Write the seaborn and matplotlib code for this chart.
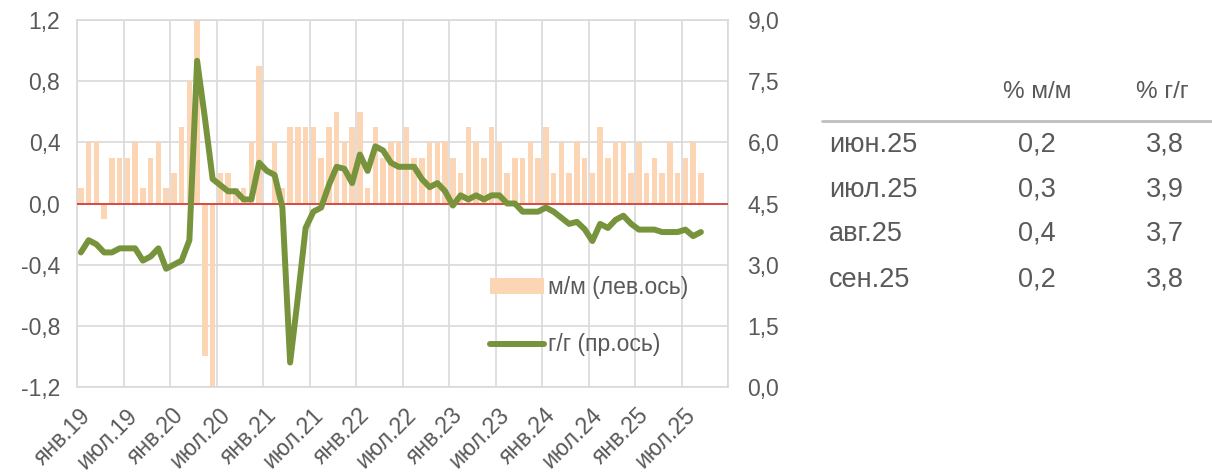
import numpy as np
import pandas as pd
import matplotlib
matplotlib.use("Agg")
import matplotlib.pyplot as plt
import matplotlib.transforms as mtransforms
from matplotlib.patches import Patch
from matplotlib.lines import Line2D
from matplotlib.ticker import FuncFormatter
import seaborn as sns

# ---------------- data ----------------
month_abbr = ["янв", "фев", "мар", "апр", "май", "июн",
              "июл", "авг", "сен", "окт", "ноя", "дек"]
years = [19, 20, 21, 22, 23, 24, 25]
months = [f"{m}.{y}" for y in years for m in month_abbr]  # axis categories

mm = [0.1, 0.4, 0.4, -0.1, 0.3, 0.3, 0.3, 0.4, 0.1, 0.3, 0.4, 0.1,
      0.2, 0.5, 0.8, 1.2, -1.0, -1.2, 0.2, 0.2, 0.1, 0.1, 0.4, 0.9,
      0.0, 0.4, 0.1, 0.5, 0.5, 0.5, 0.5, 0.3, 0.5, 0.6, 0.4, 0.5,
      0.6, 0.1, 0.5, 0.3, 0.4, 0.4, 0.5, 0.3, 0.3, 0.4, 0.4, 0.4,
      0.3, 0.2, 0.5, 0.4, 0.3, 0.5, 0.4, 0.2, 0.3, 0.3, 0.4, 0.3,
      0.5, 0.2, 0.4, 0.2, 0.4, 0.3, 0.2, 0.5, 0.3, 0.4, 0.4, 0.2,
      0.4, 0.2, 0.3, 0.2, 0.4, 0.2, 0.3, 0.4, 0.2]

yy = [3.3, 3.6, 3.5, 3.3, 3.3, 3.4, 3.4, 3.4, 3.1, 3.2, 3.4, 2.9,
      3.0, 3.1, 3.6, 8.0, 6.6, 5.1, 4.95, 4.8, 4.8, 4.6, 4.6, 5.5,
      5.3, 5.2, 4.4, 0.6, 2.2, 3.9, 4.3, 4.4, 4.95, 5.4, 5.35, 5.0,
      5.7, 5.3, 5.9, 5.8, 5.5, 5.4, 5.4, 5.4, 5.1, 4.9, 5.0, 4.8,
      4.45, 4.7, 4.6, 4.7, 4.6, 4.7, 4.7, 4.5, 4.5, 4.3, 4.3, 4.3,
      4.4, 4.3, 4.15, 4.0, 4.05, 3.87, 3.58, 4.0, 3.9, 4.1, 4.2, 4.0,
      3.86, 3.86, 3.86, 3.8, 3.8, 3.8, 3.86, 3.7, 3.8]

left_ticks = [-1.2, -0.8, -0.4, 0.0, 0.4, 0.8, 1.2]
right_ticks = [0.0, 1.5, 3.0, 4.5, 6.0, 7.5, 9.0]

legend_labels = ["м/м (лев.ось)", "г/г (пр.ось)"]
table_header = ["% м/м", "% г/г"]
table_months = ["июн.25", "июл.25", "авг.25", "сен.25"]
table_mm = ["0,2", "0,3", "0,4", "0,2"]
table_yy = ["3,8", "3,9", "3,7", "3,8"]

# ---------------- style ----------------
BAR = "#FCD5B5"
LINE = "#77933C"
TXT = "#595959"
GRID = "#d9d9d9"
FS = 16.5

sns.set_theme(style="white")
plt.rcParams["font.family"] = ["Liberation Sans", "DejaVu Sans"]

W, H = 1212, 474
fig = plt.figure(figsize=(W / 100, H / 100), dpi=100)
L, R, T, B = 77, 728, 20, 387
ax = fig.add_axes([L / W, 1 - B / H, (R - L) / W, (B - T) / H])

df = pd.DataFrame({"month": months[:len(mm)], "mm": mm})
sns.barplot(data=df, x="month", y="mm", order=months, color=BAR,
            saturation=1, width=0.68, linewidth=0, edgecolor="none",
            ax=ax, zorder=2)
ax.set_xlim(-0.5, len(months) - 0.5)
ax.set_ylim(left_ticks[0], left_ticks[-1])
ax.set_yticks(left_ticks)
ax.yaxis.set_major_formatter(FuncFormatter(lambda v, _: f"{v:.1f}".replace(".", ",")))
ax.set_xticks(np.arange(0, len(months), 6))
ax.set_xticklabels(months[::6])
ax.set_xticks(np.arange(-0.5, len(months), 6), minor=True)
ax.set_xlabel("")
ax.set_ylabel("")
ax.set_axisbelow(True)
ax.grid(axis="y", which="major", color=GRID, lw=1.2)
ax.grid(axis="x", which="minor", color=GRID, lw=1.2)
ax.grid(axis="x", which="major", visible=False)
ax.axhline(0, color="#d6322b", lw=1.2, zorder=3)
for s in ax.spines.values():
    s.set_color(GRID)
    s.set_linewidth(1.2)
ax.tick_params(axis="y", length=0, pad=12, labelsize=FS, labelcolor=TXT)
ax.tick_params(axis="x", which="both", length=0, pad=18, labelsize=FS, labelcolor=TXT)
off = mtransforms.ScaledTranslation(0.06, 0, fig.dpi_scale_trans)
for lbl in ax.get_xticklabels():
    lbl.set_rotation(45)
    lbl.set_ha("right")
    lbl.set_va("center")
    lbl.set_rotation_mode("anchor")
    lbl.set_transform(lbl.get_transform() + off)

ax2 = ax.twinx()
sns.lineplot(x=np.arange(len(yy)), y=yy, ax=ax2, color=LINE, lw=4.3, zorder=4)
ax2.set_ylim(right_ticks[0], right_ticks[-1])
ax2.set_yticks(right_ticks)
ax2.yaxis.set_major_formatter(FuncFormatter(lambda v, _: f"{v:.1f}".replace(".", ",")))
ax2.tick_params(axis="y", length=0, pad=14, labelsize=FS, labelcolor=TXT)
ax2.set_ylabel("")
for s in ax2.spines.values():
    s.set_visible(False)

handles = [Patch(facecolor=BAR, edgecolor="none"),
           Line2D([], [], color=LINE, lw=4.3)]
ax2.legend(handles, legend_labels, loc="upper left",
           bbox_to_anchor=(490 / W, 1 - 276 / H), bbox_transform=fig.transFigure,
           frameon=False, borderpad=0, borderaxespad=0, handlelength=2.35,
           handleheight=0.65, handletextpad=0.2, labelspacing=1.5,
           fontsize=FS, labelcolor=TXT)

# ---------------- table ----------------
TFS = 19.5
fig.text(1037 / W, 1 - 92 / H, table_header[0], ha="center", va="center",
         fontsize=17.5, color=TXT)
fig.text(1162 / W, 1 - 92 / H, table_header[1], ha="center", va="center",
         fontsize=17.5, color=TXT)
fig.add_artist(Line2D([822 / W, 1.0], [1 - 121 / H] * 2, transform=fig.transFigure,
                      color="#bfbfbf", lw=2))
row_y = [145, 190, 234, 280]
for ry, m, a, b in zip(row_y, table_months, table_mm, table_yy):
    fig.text(829 / W, 1 - ry / H, m, ha="left", va="center", fontsize=TFS, color=TXT)
    fig.text(1037 / W, 1 - ry / H, a, ha="center", va="center", fontsize=TFS, color=TXT)
    fig.text(1165 / W, 1 - ry / H, b, ha="center", va="center", fontsize=TFS, color=TXT)

fig.savefig("out.png", dpi=100)
